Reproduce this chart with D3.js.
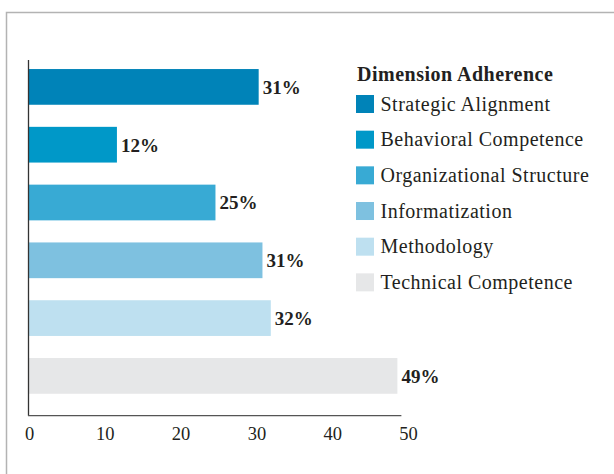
<!DOCTYPE html>
<html>
<head>
<meta charset="utf-8">
<script src="https://cdn.jsdelivr.net/npm/d3@7"></script>
<style>
  body { margin: 0; background: #fff; }
  text { font-family: "Liberation Serif", "Times New Roman", serif; fill: #231f20; }
</style>
</head>
<body>
<script>
// data
var categories = ["Strategic Alignment", "Behavioral Competence", "Organizational Structure",
                  "Informatization", "Methodology", "Technical Competence"];
var values = [30.3, 11.6, 24.6, 30.8, 31.9, 48.6];
var valueLabels = ["31%", "12%", "25%", "31%", "32%", "49%"];
var colors = ["#0083b8", "#0098c8", "#38aad4", "#7ec1e0", "#bee0f0", "#e6e7e8"];
var ticks = [0, 10, 20, 30, 40, 50];
var legendTitle = "Dimension Adherence";

var w = 614;
var h = 474;

var svg = d3.select("body")
            .append("svg")
            .attr("width", w)
            .attr("height", h);

// outer frame (runs off the right and bottom edge)
svg.append("rect")
   .attr("x", 6.5)
   .attr("y", 12.5)
   .attr("width", 700)
   .attr("height", 600)
   .attr("fill", "none")
   .attr("stroke", "#b3b3b3")
   .attr("stroke-width", 1.5);

var x = d3.scaleLinear()
          .domain([0, 50])
          .range([29, 408]);

var y = d3.scaleBand()
          .domain(categories)
          .range([58, 404.8])
          .paddingInner(0.382)
          .paddingOuter(0.191);

svg.selectAll("rect.bar")
   .data(values)
   .enter()
   .append("rect")
   .attr("class", "bar")
   .attr("x", x(0))
   .attr("y", (d, i) => y(categories[i]))
   .attr("width", d => x(d) - x(0))
   .attr("height", y.bandwidth())
   .attr("fill", (d, i) => colors[i]);

// value labels
svg.selectAll("text.val")
   .data(values)
   .enter()
   .append("text")
   .attr("class", "val")
   .attr("x", d => x(d) + 4)
   .attr("y", (d, i) => y(categories[i]) + y.bandwidth() / 2)
   .attr("dy", "0.36em")
   .attr("font-size", 19)
   .attr("font-weight", "bold")
   .text((d, i) => valueLabels[i]);

// axes lines
svg.append("line")
   .attr("x1", 28.5).attr("x2", 28.5)
   .attr("y1", 60).attr("y2", 415.7)
   .attr("stroke", "#333").attr("stroke-width", 1.3);

svg.append("line")
   .attr("x1", 28).attr("x2", x(d3.max(values)) + 4)
   .attr("y1", 415.7).attr("y2", 415.7)
   .attr("stroke", "#555").attr("stroke-width", 1.3);

var xAxis = svg.append("g")
   .attr("transform", "translate(0,416)")
   .call(d3.axisBottom(x).tickValues(ticks).tickSize(0).tickPadding(11));
xAxis.select(".domain").remove();
xAxis.selectAll("text")
     .attr("font-size", 18.5)
     .attr("font-family", "Liberation Serif, serif")
     .attr("fill", "#231f20")
     .attr("dy", "0.71em");

// legend
var legend = svg.append("g").attr("transform", "translate(356,0)");

legend.append("text")
      .attr("x", 1)
      .attr("y", 80.7)
      .attr("font-size", 20)
      .attr("font-weight", "bold")
      .attr("letter-spacing", 0.5)
      .text(legendTitle);

var items = legend.selectAll("g.item")
      .data(categories)
      .enter()
      .append("g")
      .attr("class", "item")
      .attr("transform", (d, i) => "translate(0," + (95 + i * 35.67) + ")");

items.append("rect")
     .attr("width", 18)
     .attr("height", 18)
     .attr("fill", (d, i) => colors[i]);

items.append("text")
     .attr("x", 24.5)
     .attr("y", 15.5)
     .attr("font-size", 20)
     .attr("letter-spacing", 0.5)
     .text(d => d);
</script>
</body>
</html>
